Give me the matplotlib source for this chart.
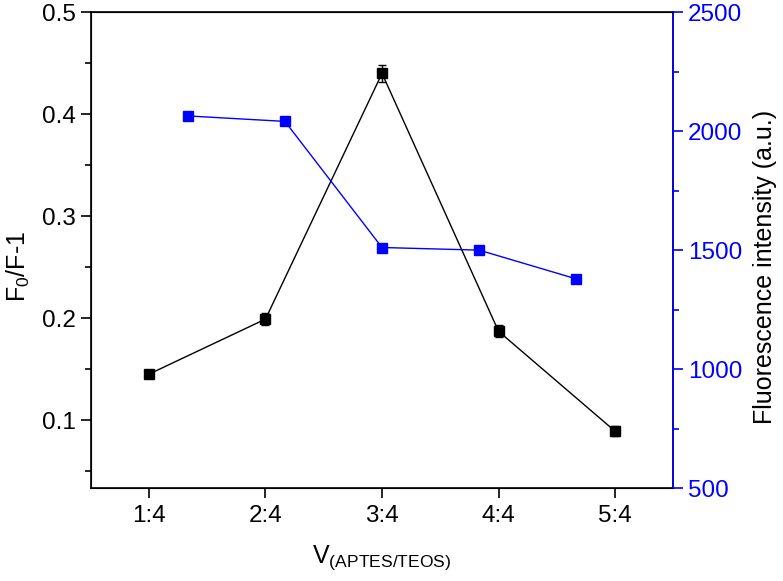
import matplotlib
matplotlib.use("Agg")
import matplotlib.pyplot as plt
from matplotlib.ticker import MultipleLocator

plt.rcParams['font.family'] = ['Liberation Sans', 'DejaVu Sans']
plt.rcParams['mathtext.default'] = 'regular'

## DATA
ratios = ["1:4", "2:4", "3:4", "4:4", "5:4"]
x_ratio = [1, 2, 3, 4, 5]
quench = [0.145, 0.199, 0.440, 0.187, 0.089]
quench_err = [0.003, 0.006, 0.008, 0.006, 0.005]

x_fluo = [1.333, 2.167, 3.0, 3.833, 4.667]
fluo = [2064, 2041, 1511, 1500, 1379]

fig = plt.figure(figsize=(7.83, 5.81), dpi=100)
ax = fig.add_axes([0.1158, 0.16, 0.7442, 0.819])

ax.errorbar(x_ratio, quench, yerr=quench_err, color='black', lw=1,
            marker='s', ms=7, capsize=3, elinewidth=1, capthick=1, zorder=3)
ax.set_xlim(0.5, 5.5)
ax.set_ylim(0.0333, 0.5)
ax.set_xticks(x_ratio)
ax.set_xticklabels(ratios)
ax.yaxis.set_major_locator(MultipleLocator(0.1))
ax.yaxis.set_minor_locator(MultipleLocator(0.05))
ax.tick_params(axis='both', which='major', direction='out', length=7, width=1.2,
               labelsize=17.5)
ax.tick_params(axis='x', which='major', pad=5)
ax.tick_params(axis='y', which='minor', direction='out', length=4, width=1.2)
ax.set_ylabel("F$_0$/F-1", fontsize=18, labelpad=7)
ax.yaxis.label.set_y(0.465)
ax.set_xlabel("V$_{(APTES/TEOS)}$", fontsize=18, labelpad=12)
for s in ax.spines.values():
    s.set_linewidth(1.2)

ax2 = ax.twinx()
ax2.plot(x_fluo, fluo, color='#0000ff', lw=1, marker='s', ms=7)
ax2.set_ylim(500, 2500)
ax2.yaxis.set_major_locator(MultipleLocator(500))
ax2.yaxis.set_minor_locator(MultipleLocator(250))
ax2.tick_params(axis='y', which='major', direction='out', length=7, width=1.2,
                colors='#0000ff', labelsize=17.5)
ax2.tick_params(axis='y', which='minor', direction='out', length=4, width=1.2,
                colors='#0000ff')
ax2.spines['right'].set_color('#0000ff')
ax2.spines['right'].set_linewidth(1.2)
ax2.set_ylabel("Fluorescence intensity (a.u.)", fontsize=18, color='black',
               labelpad=8)
ax2.yaxis.label.set_y(0.465)

fig.savefig("out.png", dpi=100)
